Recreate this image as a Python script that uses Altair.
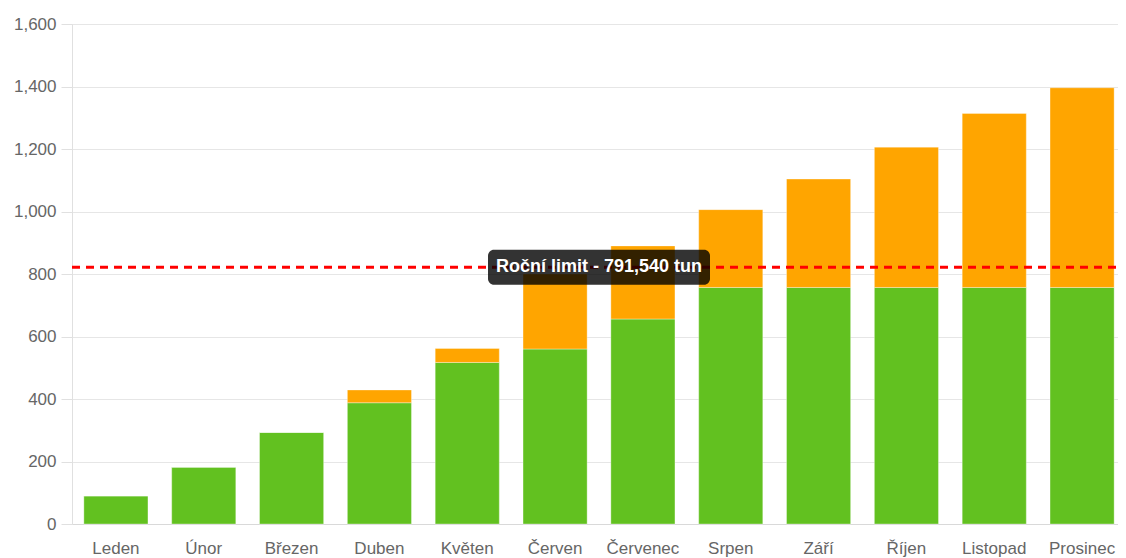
import altair as alt
import pandas as pd

months = ["Leden", "Únor", "Březen", "Duben", "Květen", "Červen",
          "Červenec", "Srpen", "Září", "Říjen", "Listopad", "Prosinec"]
green_vals = [90, 182, 293, 388, 517, 560, 656, 757, 757, 757, 757, 757]
orange_vals = [0, 0, 0, 41, 45, 240, 234, 249, 347, 449, 557, 639]
series_names = ["V limitu", "Nad limit"]
series_colors = ["#62c120", "#ffa500"]
limit_value = 822
limit_label = "Roční limit - 791,540 tun"
y_ticks = [0, 200, 400, 600, 800, 1000, 1200, 1400, 1600]

rows = []
for m, g, o in zip(months, green_vals, orange_vals):
    rows.append({"mesic": m, "serie": series_names[0], "hodnota": g, "poradi": 0})
    rows.append({"mesic": m, "serie": series_names[1], "hodnota": o, "poradi": 1})
df = pd.DataFrame(rows)

FULL_W = 1054   # band range width (reference plot extends to window edge)
W, H = 1046, 500
FONT = "Liberation Sans"

bars = alt.Chart(df).mark_bar(strokeWidth=1, strokeOpacity=0.35, stroke="white").encode(
    x=alt.X("mesic:N", sort=months, title=None,
            scale=alt.Scale(paddingInner=0.27, paddingOuter=0.135, range=[0, FULL_W]),
            axis=alt.Axis(labelAngle=0, ticks=False, grid=False, domainColor="#d9d9d9",
                          labelFont=FONT, labelFontSize=17, labelColor="#666666",
                          labelPadding=16)),
    y=alt.Y("hodnota:Q", stack="zero", title=None,
            scale=alt.Scale(domain=[0, 1600], nice=False),
            axis=alt.Axis(values=y_ticks, format=",.0f", grid=True, gridColor="#e6e6e6",
                          domainColor="#e0e0e0", tickColor="#e0e0e0", tickSize=11,
                          labelFont=FONT, labelFontSize=17, labelColor="#666666",
                          labelPadding=5)),
    color=alt.Color("serie:N", scale=alt.Scale(domain=series_names, range=series_colors),
                    legend=None),
    order=alt.Order("poradi:Q"),
)

limit_df = pd.DataFrame({"limit": [limit_value], "label": [limit_label]})

line = alt.Chart(limit_df).mark_rule(color="#ff0000", strokeWidth=3, strokeDash=[8, 6]).encode(
    y="limit:Q",
    x=alt.value(0),
    x2=alt.value(FULL_W),
)

box = alt.Chart(limit_df).mark_rect(
    color="black", opacity=0.8, cornerRadius=6,
    xOffset=-111, x2Offset=111, yOffset=-17.5, y2Offset=17.5,
).encode(
    x=alt.value(FULL_W / 2),
    x2=alt.value(FULL_W / 2),
    y="limit:Q",
    y2="limit:Q",
)

label = alt.Chart(limit_df).mark_text(
    color="white", font=FONT, fontSize=18, fontWeight="bold",
    align="center", baseline="middle",
).encode(
    x=alt.value(FULL_W / 2),
    y="limit:Q",
    text="label:N",
)

chart = alt.layer(bars, line, box, label).properties(
    width=W, height=H,
    autosize=alt.AutoSizeParams(type="none"),
    padding={"left": 64, "top": 16, "right": 0, "bottom": 34},
).configure_view(stroke=None).configure(background="white")

chart.save("out.html", embed_options={"renderer": "svg", "actions": False})
